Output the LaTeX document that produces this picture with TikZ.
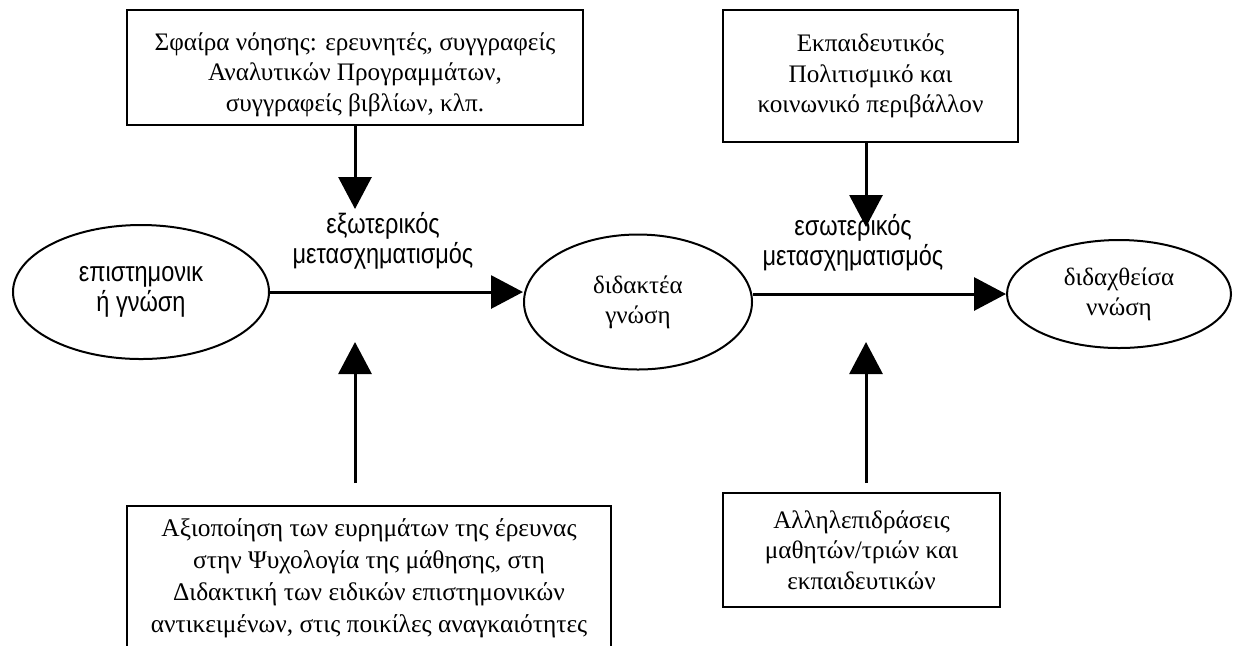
\documentclass[tikz,border=0pt]{standalone}
\usepackage{fontspec}
\setmainfont{Liberation Serif}
\newfontfamily\narrowsans[FakeStretch=0.84]{Liberation Sans}
\usetikzlibrary{shapes.geometric,arrows.meta}

\begin{document}
\begin{tikzpicture}[x = 0.5pt, y = -0.5pt,
		box/.style = {draw, line width = 1pt, align = center, inner sep = 0pt, font = \fontsize{12.6}{15.2}\selectfont},
		knowledge/.style = {ellipse, draw, line width = 1pt, align = center, inner sep = 0pt},
		transf/.style = {align = center, font = \narrowsans\fontsize{14}{15}\selectfont},
		arr/.style = {line width = 1.5pt, -{Triangle[length = 16pt, width = 16.5pt]}}]
	%Frame
	\clip (0, 0) rectangle (1235, 645);
	%Knowledge
		\node[knowledge, minimum width = 128pt, minimum height = 67pt, font = \narrowsans\fontsize{14}{15}\selectfont] (epist) at (141, 292) {επιστημονικ\\ή γνώση};
		\node[knowledge, minimum width = 114pt, minimum height = 67.5pt, font = \fontsize{12.5}{15}\selectfont] (didakt) at (638, 302) {διδακτέα\\γνώση};
		\node[knowledge, minimum width = 112pt, minimum height = 54pt, font = \fontsize{12.5}{15}\selectfont] (didax) at (1119, 294) {διδαχθείσα\\ννώση};
	%Transformations
		\node[transf] (exo) at (383, 241) {εξωτερικός\\μετασχηματισμός};
		\node[transf] (eso) at (853, 243) {εσωτερικός\\μετασχηματισμός};
		\draw[arr] (epist.east) -- (epist.east -| didakt.west);
		\draw[arr] (didax.west -| didakt.east) -- (didax.west);
	%Top
		\node[box, minimum width = 228pt, minimum height = 57.5pt] (sfaira) at (355, 67.5) {\rule{0pt}{16pt}Σφαίρα νόησης: ερευνητές, συγγραφείς\\Αναλυτικών Προγραμμάτων,\\συγγραφείς βιβλίων, κλπ.};
		\node[box, minimum width = 147.5pt, minimum height = 66pt] (periv) at (870.5, 76) {Εκπαιδευτικός\\Πολιτισμικό και\\κοινωνικό περιβάλλον};
		\coordinate (sfairaTip) at (355, 209);
		\coordinate (perivTop) at (866, 142);
		\coordinate (perivTip) at (866, 227);
		\draw[arr] (sfaira.south) -- (sfairaTip);
		\draw[arr] (perivTop) -- (perivTip);
	%Bottom
		\node[box, minimum width = 242pt, minimum height = 72pt, font = \fontsize{12.7}{16}\selectfont] (axiop) at (369, 578) {Αξιοποίηση των ευρημάτων της έρευνας\\στην Ψυχολογία της μάθησης, στη\\Διδακτική των ειδικών επιστημονικών\\αντικειμένων, στις ποικίλες αναγκαιότητες};
		\node[box, minimum width = 138.5pt, minimum height = 57pt] (allil) at (861.5, 550) {Αλληλεπιδράσεις\\μαθητών/τριών και\\εκπαιδευτικών};
		\coordinate (axiopFoot) at (355, 483);
		\coordinate (axiopTip) at (355, 342);
		\coordinate (allilFoot) at (866, 483);
		\coordinate (allilTip) at (866, 342);
		\draw[arr] (axiopFoot) -- (axiopTip);
		\draw[arr] (allilFoot) -- (allilTip);
\end{tikzpicture}
\end{document}
